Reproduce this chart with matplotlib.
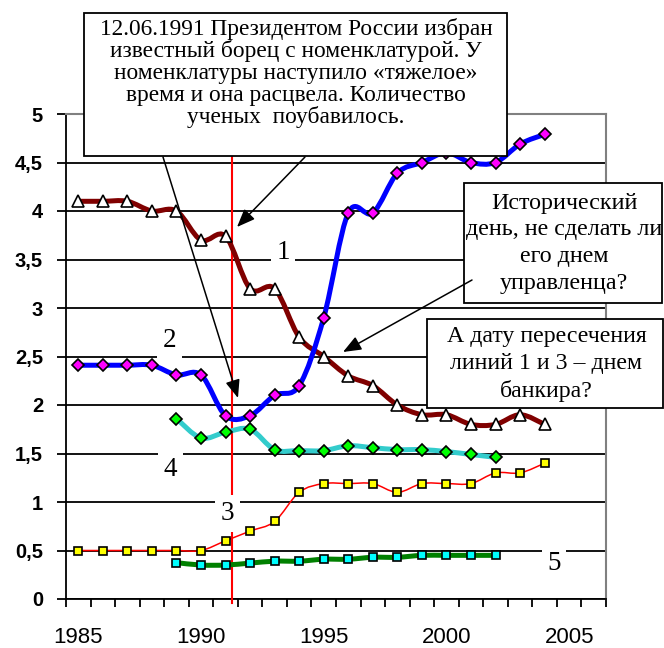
import matplotlib
matplotlib.use("Agg")
import matplotlib.pyplot as plt
import numpy as np
from matplotlib.path import Path
from matplotlib.patches import PathPatch, Rectangle, FancyArrowPatch, ArrowStyle

plt.rcParams['font.family'] = ['Liberation Sans', 'DejaVu Sans']

# --- data ---
years_a = [1985, 1986, 1987, 1988, 1989, 1990, 1991, 1992, 1993, 1994,
           1995, 1996, 1997, 1998, 1999, 2000, 2001, 2002, 2003, 2004]
years_b = [1989, 1990, 1991, 1992, 1993, 1994, 1995,
           1996, 1997, 1998, 1999, 2000, 2001, 2002]

line1 = [4.1, 4.1, 4.1, 4.0, 4.0, 3.7, 3.74, 3.2, 3.2, 2.7,
         2.5, 2.3, 2.2, 2.0, 1.9, 1.9, 1.8, 1.8, 1.9, 1.8]
line2 = [2.41, 2.41, 2.41, 2.41, 2.31, 2.31, 1.89, 1.89, 2.1, 2.2,
         2.9, 3.98, 3.98, 4.39, 4.5, 4.6, 4.5, 4.5, 4.69, 4.79]
line3 = [0.5, 0.5, 0.5, 0.5, 0.5, 0.5, 0.6, 0.7, 0.8, 1.1,
         1.19, 1.19, 1.19, 1.1, 1.19, 1.19, 1.19, 1.3, 1.3, 1.4]
line4 = [1.86, 1.66, 1.72, 1.75, 1.54, 1.53, 1.53,
         1.58, 1.56, 1.54, 1.54, 1.52, 1.49, 1.46]
line5 = [0.375, 0.35, 0.35, 0.37, 0.39, 0.39, 0.41,
         0.41, 0.43, 0.43, 0.45, 0.45, 0.45, 0.45]

election = 1991.25   # 12.06.1991 marker line

y_ticks = [0, 0.5, 1, 1.5, 2, 2.5, 3, 3.5, 4, 4.5, 5]
x_labels = [1985, 1990, 1995, 2000, 2005]

note_top = ["12.06.1991 Президентом России избран",
            "известный борец с номенклатурой. У",
            "номенклатуры наступило «тяжелое»",
            "время и она расцвела. Количество",
            "ученых  поубавилось."]
note_mid = ["Исторический", "день, не сделать ли", "его днем", "управленца?"]
note_low = ["А дату пересечения", "линий 1 и 3 – днем", "банкира?"]

W, H = 664, 648


def fx(x):
    return x / W


def fy(y):
    return 1 - y / H


def smooth_path(xs, ys):
    # Excel-like smoothed line: cubic bezier through the points
    pts = np.column_stack([xs, ys]).astype(float)
    n = len(pts)
    verts = [pts[0]]
    codes = [Path.MOVETO]
    for i in range(n - 1):
        p0 = pts[max(i - 1, 0)]
        p1 = pts[i]
        p2 = pts[i + 1]
        p3 = pts[min(i + 2, n - 1)]
        verts += [p1 + (p2 - p0) / 6, p2 - (p3 - p1) / 6, p2]
        codes += [Path.CURVE4] * 3
    return Path(verts, codes)


def draw_series(ax, xs, ys, color, lw, marker, mfc, ms, z):
    ax.add_patch(PathPatch(smooth_path(xs, ys), fc='none', ec=color, lw=lw,
                           capstyle='round', joinstyle='round', zorder=z))
    ax.plot(xs, ys, ls='none', marker=marker, ms=ms, mfc=mfc, mec='black',
            mew=1.2, zorder=z + 0.1, clip_on=False)


fig = plt.figure(figsize=(6.64, 6.48), dpi=100)
ax = fig.add_axes([fx(66), fy(599), fx(606) - fx(66), fy(114) - fy(599)])

ax.set_xlim(1984.5, 2006.5)
ax.set_ylim(0, 5)

draw_series(ax, years_b, line5, '#008000', 3.6, 's', '#00FFFF', 5.5, 5)
draw_series(ax, years_a, line3, '#FF0000', 1.1, 's', '#FFFF00', 5.5, 6)
draw_series(ax, years_b, line4, '#33CCCC', 3.6, 'D', '#00FF00', 6.5, 7)
draw_series(ax, years_a, line1, '#800000', 3.6, '^', 'white', 8, 8)
draw_series(ax, years_a, line2, '#0000FF', 3.6, 'D', '#FF00FF', 6.5, 9)

ax.plot([election, election], [-0.045, 4.56], color='#FF0000', lw=1.5,
        zorder=3, clip_on=False)

# series numbers
num_style = dict(fontsize=19.5, family=['Liberation Serif', 'DejaVu Serif'],
                 ha='center', va='center', zorder=4,
                 bbox=dict(fc='white', ec='none', pad=4))
ax.text(1993.34, 3.57, '1', **num_style)
ax.text(1988.73, 2.67, '2', **num_style)
ax.text(1991.09, 0.88, '3', **num_style)
ax.text(1988.75, 1.34, '4', **num_style)
ax.text(2004.38, 0.365, '5', **num_style)

# axes styling
ax.set_yticks(y_ticks)
ax.set_yticklabels([f"{v:g}".replace('.', ',') for v in y_ticks],
                   fontsize=14.5, fontweight='bold')
ax.set_xticks(x_labels)
ax.set_xticklabels([str(v) for v in x_labels], fontsize=16)
ax.set_xticks(np.arange(1984.5, 2007, 1), minor=True)
ax.tick_params(axis='y', direction='out', length=6.5, width=1.3, pad=10)
ax.tick_params(axis='x', which='major', length=0, pad=20)
ax.tick_params(axis='x', which='minor', direction='out', length=5.5, width=1.3)
ax.yaxis.grid(True, color='black', lw=1.3)
ax.set_axisbelow(True)
for s in ['left', 'bottom']:
    ax.spines[s].set_color('black')
    ax.spines[s].set_linewidth(1.3)
for s in ['top', 'right']:
    ax.spines[s].set_color('#808080')
    ax.spines[s].set_linewidth(1.5)

# callout boxes
serif = ['Liberation Serif', 'DejaVu Serif']


def callout(x0, y0, x1, y1, lines, cx, base0, step, size):
    fig.add_artist(Rectangle((fx(x0), fy(y1)), fx(x1) - fx(x0), fy(y0) - fy(y1),
                             transform=fig.transFigure, fc='white',
                             ec='black', lw=1.3, zorder=10))
    for i, line in enumerate(lines):
        fig.text(fx(cx), fy(base0 + i * step), line, ha='center',
                 va='baseline', fontsize=size, family=serif, zorder=11)


callout(84, 13, 507, 156, note_top, 296, 35, 22.1, 16.8)
callout(464, 183, 662, 303, note_mid, 564, 208.5, 26.7, 17.3)
callout(427, 319, 663, 408, note_low, 546.5, 341.7, 27.5, 17.2)

# arrows
head = ArrowStyle('-|>', head_length=0.55, head_width=0.22)
for start, tip in [((305, 157), (237, 227)),
                   ((163, 157), (238, 398)),
                   ((472, 280), (343, 352))]:
    fig.add_artist(FancyArrowPatch((fx(start[0]), fy(start[1])),
                                   (fx(tip[0]), fy(tip[1])),
                                   transform=fig.transFigure,
                                   arrowstyle=head, mutation_scale=20,
                                   color='black', lw=1.1, shrinkA=0, shrinkB=0,
                                   zorder=12))

fig.savefig("out.png", dpi=100)
